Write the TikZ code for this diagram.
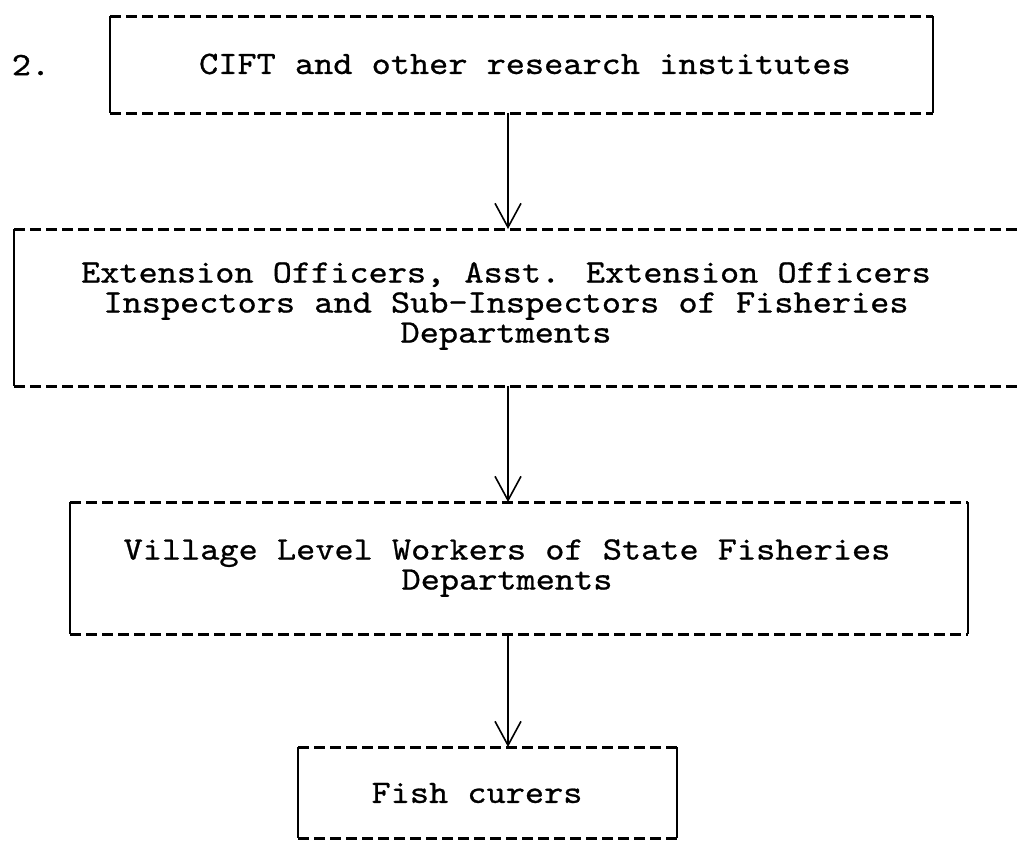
\documentclass[tikz,border=0pt]{standalone}
\usepackage{fontspec}
\newfontfamily\typewr{lmmono10-regular.otf}[FakeBold=0.8, FakeStretch=1.12]
\usepackage{tikz}
\usetikzlibrary{arrows.meta, positioning}

\tikzset{
    ibox/.style={inner sep=0pt, outer sep=0pt},
    txt/.style={font=\typewr\fontsize{32.6}{30}\selectfont, align=center, inner sep=0pt},
    dashedge/.style={line width=3pt, dash pattern=on 11pt off 5pt},
    solidedge/.style={line width=2.4pt},
    flow/.style={line width=1.6pt, -{Straight Barb[length=24pt, width=26pt, line width=1.6pt]}}
}

% four sides of a typed box: dashed top and bottom, solid sides
\newcommand{\typedbox}[1]{
    \draw[solidedge] (#1.north west) -- (#1.south west) (#1.north east) -- (#1.south east);
    \draw[dashedge] (#1.north west) -- (#1.north east) (#1.south west) -- (#1.south east);
}

\begin{document}
\begin{tikzpicture}[x=1pt, y=-1pt]

            \useasboundingbox (0,0) rectangle (1017,841);

            \node[txt] (num) at (31,65) {2.};

            % boxes
            \node[ibox, minimum width=823pt, minimum height=97pt] (cift) at (521.5,64.5) {};
            \node[ibox, minimum width=1026pt, minimum height=157pt] (ext) at (527,307.5) {};
            \node[ibox, minimum width=898pt, minimum height=132pt] (vlw) at (519,568) {};
            \node[ibox, minimum width=379pt, minimum height=91pt] (fc) at (487.5,792.5) {};

            \typedbox{cift}
            \typedbox{ext}
            \typedbox{vlw}
            \typedbox{fc}

            % texts
            \node[txt] (ciftT) at (525,64) {CIFT and other research institutes};
            \node[txt] (extT) at (506,306) {Extension Officers, Asst. Extension Officers\\Inspectors and Sub-Inspectors of Fisheries\\Departments};
            \node[txt] (vlwT) at (507,568) {Village Level Workers of State Fisheries\\Departments};
            \node[txt] (fcT) at (477,793) {Fish curers};

            % Connections: down the chain
            \coordinate (spine) at (508,0);
            \draw[flow] (cift.south -| spine) -- (ext.north -| spine);
            \draw[flow] (ext.south -| spine) -- (vlw.north -| spine);
            \draw[flow] (vlw.south -| spine) -- (fc.north -| spine);

        \end{tikzpicture}
\end{document}
